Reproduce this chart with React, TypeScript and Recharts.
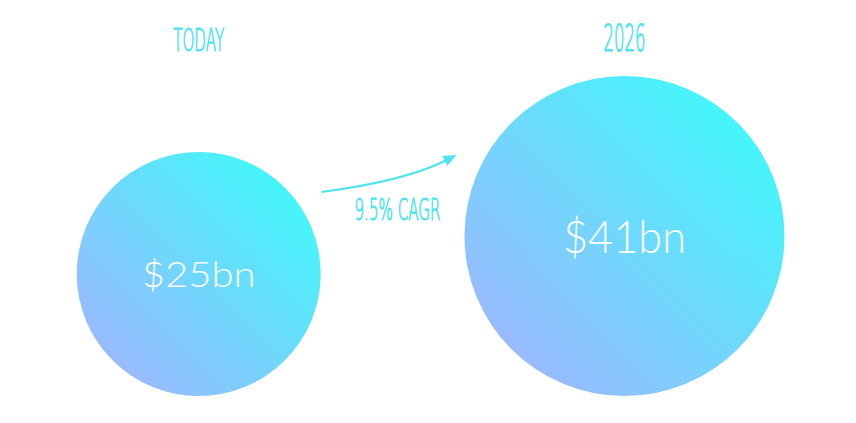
import { ScatterChart, Scatter, XAxis, YAxis, ZAxis } from 'recharts';

const periods = ['TODAY', '2026'];
const marketSize = [25, 41];
const valueLabels = ['$25bn', '$41bn'];
const growthLabel = '9.5% CAGR';

const data = periods.map((period, i) => ({
    x: i,
    y: 0,
    z: marketSize[i],
    period,
    label: valueLabels[i],
}));

const accent = '#4ee4ec';
const handFont = "'DejaVu Sans', sans-serif";
// rendered widths of the bubble captions, the font is narrow so squeeze it out
const captionWidth = [114, 123];
const captionSize = [36, 46];

// arrow between the two bubbles, placed relative to the second bubble
function GrowthArrow({ cx, base }: { cx: number; base: number }) {
    const sx = cx - 303, sy = base - 204;
    const tx = cx - 168, ty = base - 241;
    const qx = cx - 219, qy = base - 215;
    const ang = Math.atan2(ty - qy, tx - qx);
    const len = 13, half = 5.5;
    const bx = tx - len * Math.cos(ang), by = ty - len * Math.sin(ang);
    const p1 = `${bx + half * Math.sin(ang)},${by - half * Math.cos(ang)}`;
    const p2 = `${bx - half * Math.sin(ang)},${by + half * Math.cos(ang)}`;
    return (
        <g>
            <path d={`M${sx},${sy} Q${qx},${qy} ${bx + 2 * Math.cos(ang)},${by + 2 * Math.sin(ang)}`} fill="none" stroke={accent} strokeWidth={2} />
            <polygon points={`${tx},${ty} ${p1} ${p2}`} fill={accent} />
            <text
                x={cx - 227}
                y={base - 176}
                textAnchor="middle"
                fill={accent}
                fontSize={30}
                fontFamily={handFont}
                fontWeight={200}
                textLength={86}
                lengthAdjust="spacingAndGlyphs"
                stroke={accent}
                strokeWidth={1}
            >
                {growthLabel}
            </text>
        </g>
    );
}

function Bubble(props: any) {
    const { cx, cy, width, payload, index } = props;
    const r = width / 2;
    const centre = cy - r;
    return (
        <g>
            <circle cx={cx} cy={centre} r={r} fill="url(#bubbleFill)" />
            <text
                x={cx}
                y={centre}
                dy="0.36em"
                textAnchor="middle"
                fill="#ffffff"
                fontSize={captionSize[index]}
                fontFamily="Lato, 'Open Sans', sans-serif"
                fontWeight={300}
                textLength={captionWidth[index]}
                lengthAdjust="spacingAndGlyphs"
            >
                {payload.label}
            </text>
            {index === 1 && <GrowthArrow cx={cx} base={cy} />}
        </g>
    );
}

function PeriodTick(props: any) {
    const { x, y, payload } = props;
    const label = periods[payload.value];
    const isYear = /\d/.test(label);
    return (
        <text
            x={x}
            y={y - 1}
            textAnchor="middle"
            fill={accent}
            fontSize={isYear ? 38 : 32}
            fontFamily={handFont}
            fontWeight={200}
            textLength={isYear ? 42 : 51}
            lengthAdjust="spacingAndGlyphs"
            stroke={accent}
            strokeWidth={1.1}
        >
            {label}
        </text>
    );
}

export default function App() {
    return (
        <div style={{ position: 'absolute', left: 0, top: 0, width: 856, height: 423, background: '#fff' }}>
            <ScatterChart width={856} height={423} margin={{ top: 0, right: 231.5, left: 198.7, bottom: 27 }}>
                <defs>
                    <linearGradient id="bubbleFill" x1="0.85" y1="0.15" x2="0.15" y2="0.85">
                        <stop offset="0%" stopColor="#45f5fb" />
                        <stop offset="100%" stopColor="#98bbfe" />
                    </linearGradient>
                </defs>
                <XAxis
                    type="number"
                    dataKey="x"
                    orientation="top"
                    domain={[0, 1]}
                    ticks={[0, 1]}
                    height={60}
                    axisLine={false}
                    tickLine={false}
                    tick={<PeriodTick />}
                    interval={0}
                />
                <YAxis type="number" dataKey="y" domain={[0, 1]} hide />
                <ZAxis type="number" dataKey="z" domain={[25, 41]} range={[Math.PI * 122 * 122, Math.PI * 160 * 160]} />
                <Scatter data={data} shape={<Bubble />} isAnimationActive={false} />
            </ScatterChart>
        </div>
    );
}
